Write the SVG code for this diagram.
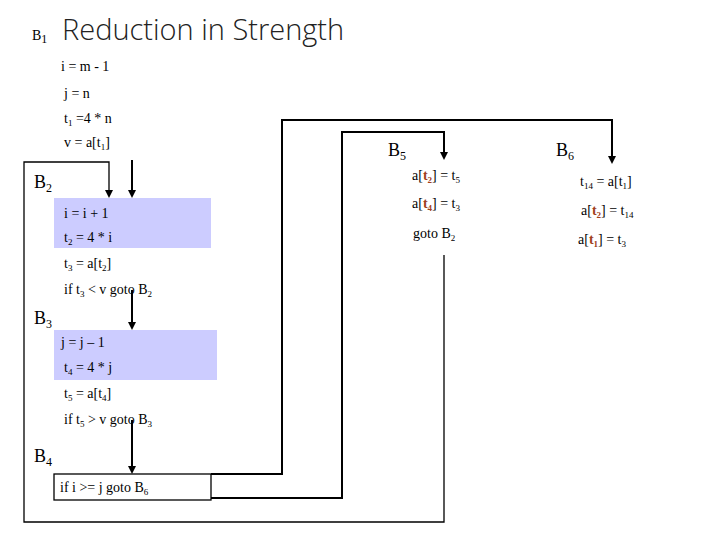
<svg xmlns="http://www.w3.org/2000/svg" width="720" height="540" viewBox="0 0 720 540">
<defs>
<style>
.t{font-family:"Liberation Serif",serif;font-size:14px;fill:#000}
.l{font-family:"Liberation Serif",serif;font-size:18px;fill:#000}
.r{fill:#a0401a;font-weight:bold}
.hl{fill:#ccccff}
.c{fill:none;stroke:#000;stroke-width:1.3}
.a{fill:none;stroke:#000;stroke-width:2;marker-end:url(#ar)}
</style>
<marker id="ar" markerWidth="4" markerHeight="4" refX="3" refY="2" orient="auto"><path d="M0,0L4,2L0,4z" fill="#000"/></marker>
</defs>
<rect width="720" height="540" fill="#fff"/>
<text x="32" y="40" class="t" font-size="18">B<tspan font-size="12" dy="3">1</tspan></text>
<text x="62" y="40" font-family="'Open Sans',sans-serif" font-size="29" font-weight="300" fill="#222">Reduction in Strength</text>
<g id="B1">
<text x="61" y="71" class="t">i = m - 1</text>
<text x="64" y="98" class="t">j = n</text>
<text x="64" y="123" class="t">t<tspan font-size="9" dy="3">1</tspan><tspan dy="-3"> =4 *  n</tspan></text>
<text x="64" y="147" class="t">v = a[t<tspan font-size="9" dy="3">1</tspan><tspan dy="-3">]</tspan></text>
</g>
<g id="B2">
<rect x="54" y="198" width="157" height="50" class="hl"/>
<text x="34" y="188" class="l">B<tspan font-size="12" dy="4">2</tspan></text>
<text x="64" y="218" class="t">i = i  + 1</text>
<text x="64" y="242" class="t">t<tspan font-size="9" dy="3">2</tspan><tspan dy="-3"> = 4 * i</tspan></text>
<text x="64" y="268" class="t">t<tspan font-size="9" dy="3">3</tspan><tspan dy="-3"> = a[t</tspan><tspan font-size="9" dy="3">2</tspan><tspan dy="-3">]</tspan></text>
<text x="64" y="294" class="t">if t<tspan font-size="9" dy="3">3</tspan><tspan dy="-3"> &lt; v goto B</tspan><tspan font-size="9" dy="3">2</tspan></text>
</g>
<g id="B3">
<rect x="54" y="330" width="163" height="50" class="hl"/>
<text x="34" y="324" class="l">B<tspan font-size="12" dy="4">3</tspan></text>
<text x="61" y="347" class="t">j = j – 1</text>
<text x="64" y="372" class="t">t<tspan font-size="9" dy="3">4</tspan><tspan dy="-3"> = 4 *  j</tspan></text>
<text x="64" y="398" class="t">t<tspan font-size="9" dy="3">5</tspan><tspan dy="-3"> = a[t</tspan><tspan font-size="9" dy="3">4</tspan><tspan dy="-3">]</tspan></text>
<text x="64" y="424" class="t">if t<tspan font-size="9" dy="3">5</tspan><tspan dy="-3"> &gt; v goto B</tspan><tspan font-size="9" dy="3">3</tspan></text>
</g>
<g id="B4">
<text x="34" y="462" class="l">B<tspan font-size="12" dy="4">4</tspan></text>
<rect x="54" y="474" width="157" height="26" fill="#fff" stroke="#000" stroke-width="1.3"/>
<text x="60" y="492" class="t" font-size="13">if i &gt;= j goto B<tspan font-size="9" dy="3">6</tspan></text>
</g>
<g id="B5">
<text x="388" y="156" class="l">B<tspan font-size="12" dy="4">5</tspan></text>
<text x="412" y="180" class="t">a[<tspan class="r">t<tspan font-size="9" dy="3">2</tspan></tspan><tspan dy="-3">] = t</tspan><tspan font-size="9" dy="3">5</tspan></text>
<text x="412" y="208" class="t">a[<tspan class="r">t<tspan font-size="9" dy="3">4</tspan></tspan><tspan dy="-3">] = t</tspan><tspan font-size="9" dy="3">3</tspan></text>
<text x="413" y="238" class="t">goto B<tspan font-size="9" dy="3">2</tspan></text>
</g>
<g id="B6">
<text x="556" y="156" class="l">B<tspan font-size="12" dy="4">6</tspan></text>
<text x="580" y="186" class="t">t<tspan font-size="9" dy="3">14</tspan><tspan dy="-3"> = a[t</tspan><tspan font-size="9" dy="3">1</tspan><tspan dy="-3">]</tspan></text>
<text x="581" y="215" class="t">a[<tspan class="r">t<tspan font-size="9" dy="3">2</tspan></tspan><tspan dy="-3">] = t</tspan><tspan font-size="9" dy="3">14</tspan></text>
<text x="578" y="244" class="t">a[<tspan class="r">t<tspan font-size="9" dy="3">1</tspan></tspan><tspan dy="-3">] = t</tspan><tspan font-size="9" dy="3">3</tspan></text>
</g>
<g id="connectors">
<line x1="132" y1="160" x2="132" y2="196" class="a"/>
<path d="M444,255 V522 H24 V162 H109 V196" class="c"/>
<line x1="109" y1="190" x2="109" y2="196" class="a"/>
<line x1="132" y1="290" x2="132" y2="328" class="a"/>
<line x1="132" y1="420" x2="132" y2="472" class="a"/>
<path d="M211,474 H282 V120 H612 V162" class="a"/>
<path d="M211,498 H342 V132 H444 V158" class="a"/>
</g>
</svg>
